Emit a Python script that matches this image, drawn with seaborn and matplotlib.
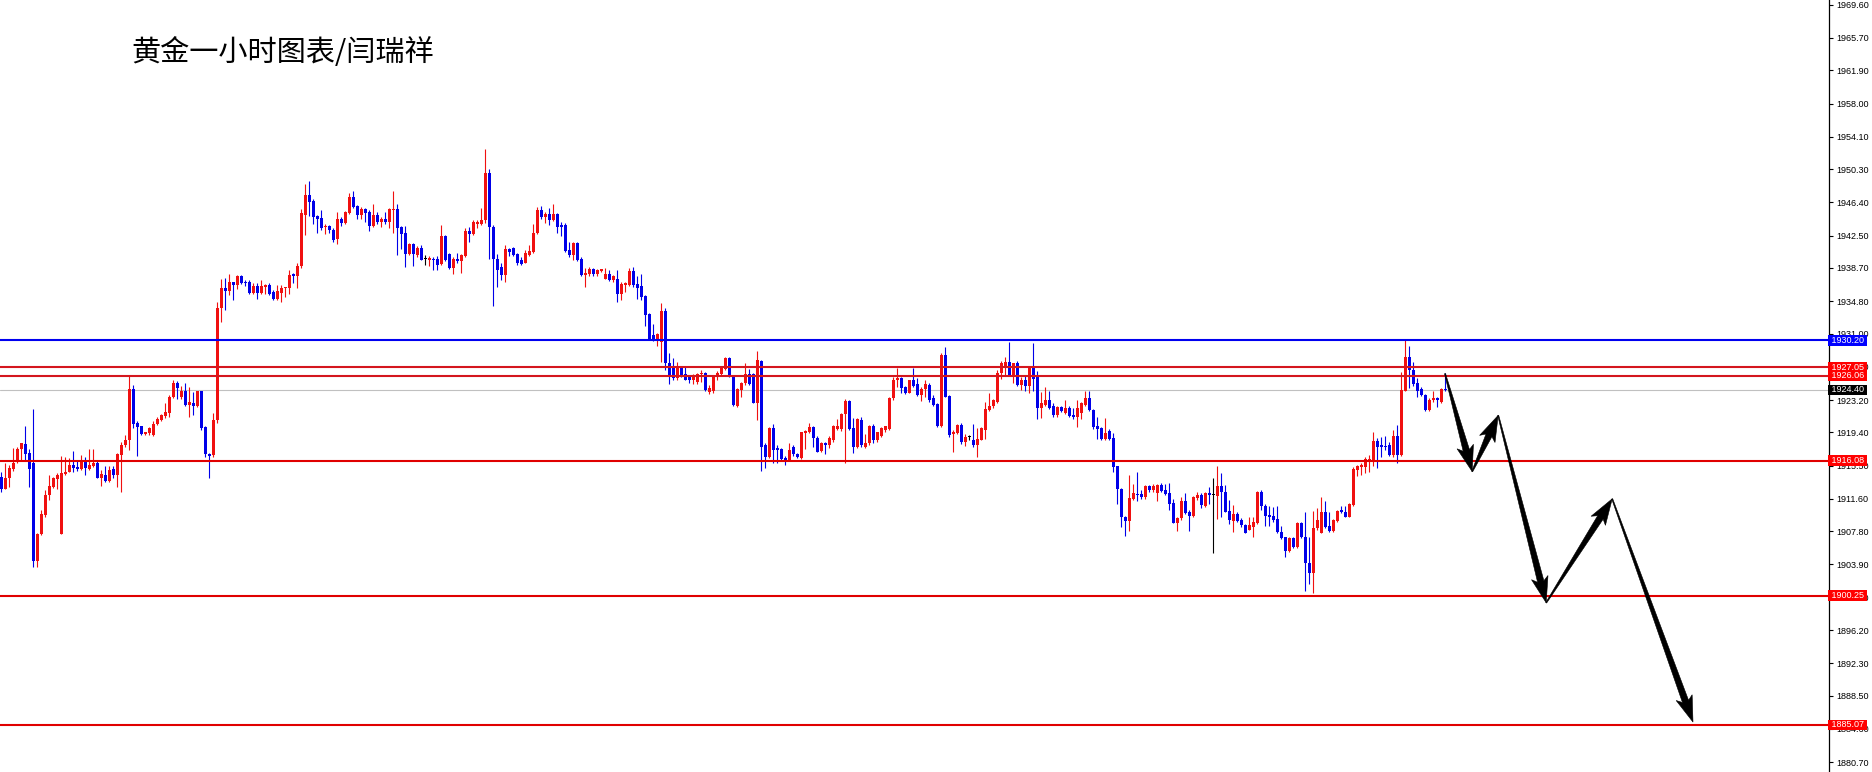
import numpy as np
import pandas as pd
import matplotlib
matplotlib.use("Agg")
import matplotlib.pyplot as plt
import matplotlib.transforms as mtransforms
from matplotlib.patches import Polygon
import seaborn as sns

# ---------------- data (hourly gold OHLC) ----------------
opens = [
1914.2,1912.8,1914.0,1915.1,1915.9,1917.4,1918.0,1917.0,1915.8,1904.3,
1907.5,1909.7,1912.0,1913.0,1913.9,1907.5,1914.5,1914.8,1915.6,1915.3,
1915.1,1916.0,1915.1,1915.4,1915.8,1914.1,1914.4,1913.7,1915.1,1914.4,
1916.8,1917.9,1918.5,1924.5,1920.5,1920.1,1919.2,1919.3,1919.1,1920.4,
1920.9,1921.3,1921.7,1923.6,1925.2,1923.6,1924.3,1922.6,1922.9,1922.5,
1924.2,1920.0,1916.9,1916.7,1920.8,1934.0,1936.4,1936.0,1937.0,1936.7,
1937.8,1937.1,1937.1,1935.8,1936.6,1935.8,1936.5,1936.7,1935.9,1935.1,
1935.8,1936.3,1936.3,1938.0,1937.7,1938.9,1944.9,1947.3,1946.5,1944.8,
1944.6,1943.5,1943.6,1943.2,1942.1,1944.5,1944.0,1945.1,1947.0,1946.0,
1944.9,1945.6,1945.3,1943.6,1944.9,1944.1,1944.5,1944.1,1945.5,1945.6,
1943.5,1942.8,1940.3,1941.5,1940.2,1941.1,1939.7,1939.6,1939.8,1939.8,
1939.2,1942.5,1940.3,1938.7,1939.8,1939.5,1940.1,1943.0,1942.7,1943.9,
1943.9,1944.3,1949.8,1943.55,1939.8,1938.8,1937.9,1940.9,1941.0,1940.3,
1939.6,1939.3,1940.2,1940.6,1942.8,1945.5,1944.7,1945.0,1944.3,1945.0,
1943.75,1943.75,1940.8,1940.2,1941.6,1939.8,1937.9,1938.0,1938.55,1938.0,
1938.4,1937.45,1937.95,1937.3,1937.4,1935.7,1936.7,1936.7,1938.4,1936.8,
1936.6,1935.4,1933.3,1930.8,1930.3,1930.05,1933.7,1927.6,1927.1,1925.75,
1926.9,1926.3,1925.95,1925.55,1925.3,1926.2,1926.4,1924.1,1924.3,1925.95,
1926.3,1926.8,1928.1,1925.95,1922.5,1924.4,1925.15,1926.3,1926.3,1922.9,
1927.8,1917.9,1916.5,1919.9,1917.55,1917.4,1916.4,1916.2,1917.65,1916.9,
1916.4,1919.3,1919.5,1920.0,1918.8,1917.25,1918.2,1917.9,1918.5,1919.8,
1919.8,1921.55,1923.1,1919.9,1917.7,1920.8,1917.7,1918.1,1920.1,1918.45,
1919.0,1919.7,1919.8,1923.4,1925.55,1925.75,1924.75,1924.05,1925.55,1925.1,
1923.8,1924.5,1924.95,1923.4,1922.7,1920.1,1928.45,1923.7,1919.2,1919.35,
1920.3,1918.3,1918.85,1918.45,1917.95,1918.5,1919.7,1922.05,1922.45,1923.0,
1926.35,1927.2,1927.7,1926.15,1927.6,1924.95,1925.55,1924.85,1926.9,1926.0,
1922.25,1922.6,1923.2,1922.45,1921.45,1922.35,1921.65,1922.25,1921.45,1921.2,
1921.65,1922.6,1923.4,1922.05,1920.1,1919.9,1918.6,1919.6,1918.7,1915.4,
1912.7,1909.5,1908.95,1911.55,1912.15,1912.15,1911.8,1913.15,1912.65,1912.25,
1913.25,1912.65,1912.25,1911.15,1908.8,1909.3,1911.4,1910.0,1909.6,1911.65,
1912.05,1910.75,1912.25,1912.05,1911.95,1913.1,1912.4,1910.2,1909.05,1909.8,
1909.1,1908.55,1908.0,1908.35,1908.8,1912.45,1910.75,1909.7,1909.6,1909.2,
1907.75,1907.1,1905.5,1906.95,1905.9,1908.8,1907.15,1904.1,1902.85,1908.15,
1907.65,1910.0,1908.4,1907.85,1909.05,1910.3,1910.1,1909.5,1910.9,1915.0,
1915.3,1915.3,1916.0,1915.95,1918.4,1917.9,1917.8,1917.9,1916.75,1918.95,
1916.75,1924.3,1928.2,1926.7,1925.15,1924.45,1923.8,1922.0,1923.2,1923.4,
1923.0,1924.55]
highs = [
1914.8,1915.8,1915.6,1917.6,1917.7,1918.2,1920.1,1917.4,1922.1,1907.6,
1910.3,1912.6,1914.4,1914.2,1914.6,1916.6,1916.5,1916.4,1917.2,1916.2,
1916.7,1916.5,1917.4,1917.5,1916.0,1915.0,1915.5,1915.4,1915.4,1917.0,
1918.3,1919.1,1926.0,1925.0,1920.7,1920.2,1919.5,1920.0,1920.7,1921.2,
1921.6,1922.9,1923.8,1925.6,1925.4,1924.8,1925.2,1924.7,1924.1,1924.3,
1924.3,1920.2,1917.0,1921.7,1934.75,1937.4,1937.5,1938.0,1937.1,1937.9,
1937.85,1937.3,1937.3,1936.9,1936.9,1937.3,1936.8,1936.9,1936.1,1936.7,
1936.7,1936.5,1938.5,1938.1,1939.3,1945.6,1948.6,1948.95,1946.8,1944.9,
1945.5,1943.9,1943.7,1943.4,1945.3,1944.65,1945.4,1947.5,1947.7,1946.1,
1945.8,1945.7,1945.5,1946.2,1945.3,1944.65,1945.3,1945.7,1947.7,1946.2,
1943.6,1943.6,1941.6,1941.6,1941.3,1941.4,1940.2,1940.1,1939.95,1940.1,
1943.8,1942.6,1940.4,1940.0,1940.4,1940.3,1943.4,1943.55,1944.3,1944.3,
1945.7,1952.7,1950.3,1943.7,1940.3,1939.25,1941.4,1941.0,1941.2,1940.5,
1939.95,1940.8,1941.4,1943.9,1945.9,1946.0,1945.3,1945.7,1946.2,1945.1,
1944.1,1944.0,1941.8,1941.8,1941.7,1939.95,1938.65,1938.8,1938.65,1938.55,
1938.6,1938.65,1938.5,1937.9,1938.5,1937.1,1937.1,1938.65,1938.8,1937.7,
1938.0,1935.55,1933.4,1932.1,1931.1,1934.55,1933.95,1928.7,1928.1,1927.7,
1927.2,1927.2,1926.1,1926.3,1926.4,1926.7,1926.5,1924.95,1926.1,1926.6,
1927.1,1928.3,1928.2,1926.0,1924.6,1925.35,1927.6,1926.8,1926.35,1929.0,
1927.9,1918.1,1920.0,1920.4,1917.9,1917.55,1916.6,1918.1,1917.9,1916.95,
1919.5,1919.7,1920.45,1920.1,1918.95,1918.3,1918.3,1919.0,1920.3,1920.95,
1921.65,1923.3,1923.2,1921.05,1921.05,1921.2,1919.2,1920.3,1920.4,1919.5,
1920.0,1920.2,1923.6,1925.9,1926.9,1925.95,1924.85,1925.6,1926.9,1925.75,
1924.75,1925.55,1925.25,1923.8,1922.9,1928.75,1929.45,1923.8,1919.7,1920.4,
1920.5,1919.2,1919.1,1920.4,1919.9,1920.0,1923.0,1924.0,1923.3,1926.75,
1927.8,1928.3,1930.05,1927.6,1927.8,1925.85,1926.15,1927.05,1929.95,1926.6,
1924.1,1924.75,1924.2,1922.9,1922.5,1922.45,1923.15,1922.45,1922.25,1923.2,
1923.0,1924.2,1924.3,1922.1,1921.2,1920.0,1921.05,1919.75,1919.35,1915.45,
1912.85,1909.6,1914.4,1913.35,1914.7,1912.65,1913.25,1913.25,1913.35,1913.35,
1913.5,1913.4,1913.5,1911.55,1909.5,1911.8,1912.25,1910.3,1911.95,1912.35,
1912.25,1912.35,1912.95,1914.1,1915.45,1914.6,1913.25,1911.45,1910.9,1910.1,
1909.3,1908.65,1909.45,1909.5,1912.55,1912.65,1911.05,1910.75,1910.7,1910.75,
1908.4,1907.15,1907.15,1907.1,1908.9,1908.9,1910.1,1907.15,1910.2,1910.5,
1911.8,1911.3,1910.1,1909.2,1910.3,1910.75,1910.75,1911.15,1915.3,1915.55,
1915.75,1916.5,1916.8,1919.4,1918.7,1918.9,1919.0,1918.3,1919.7,1920.3,
1926.5,1930.3,1929.5,1927.7,1925.75,1924.75,1923.9,1923.4,1924.2,1923.6,
1924.6,1926.4]
lows = [
1912.4,1912.7,1913.0,1914.9,1915.8,1916.2,1916.2,1913.0,1903.6,1903.6,
1907.3,1909.5,1911.5,1912.9,1912.8,1907.5,1914.4,1914.7,1914.8,1914.9,
1915.0,1914.4,1915.0,1915.3,1914.0,1913.1,1913.6,1913.6,1914.0,1913.0,
1912.4,1917.7,1917.3,1919.9,1916.6,1919.1,1919.1,1919.1,1919.0,1920.3,
1920.7,1921.1,1921.2,1923.4,1923.3,1923.3,1922.5,1921.2,1921.4,1922.4,
1919.7,1916.5,1914.0,1916.5,1920.5,1932.4,1933.8,1935.5,1934.9,1936.2,
1936.8,1936.6,1935.7,1935.7,1935.1,1935.7,1935.7,1935.5,1934.95,1934.9,
1934.75,1935.3,1935.7,1936.9,1936.3,1938.7,1942.6,1944.8,1943.9,1942.85,
1943.2,1942.7,1942.85,1941.7,1941.5,1943.6,1943.9,1945.0,1945.7,1944.5,
1944.5,1944.1,1943.0,1943.5,1943.9,1943.5,1943.9,1943.4,1942.85,1940.2,
1940.9,1938.8,1940.2,1938.9,1940.0,1939.6,1939.05,1938.9,1938.5,1938.5,
1939.05,1939.5,1938.6,1938.0,1939.3,1938.15,1940.0,1941.7,1942.6,1943.4,
1943.75,1944.0,1939.8,1934.25,1936.5,1937.3,1937.1,1940.1,1940.1,1939.1,
1939.05,1939.25,1940.1,1940.5,1942.7,1944.5,1944.0,1943.75,1944.2,1942.8,
1942.5,1940.6,1940.0,1939.6,1939.5,1937.7,1936.5,1937.7,1937.7,1937.7,
1938.2,1937.4,1937.2,1937.1,1934.75,1934.95,1935.9,1936.6,1936.5,1935.0,
1934.9,1931.9,1930.25,1930.15,1929.55,1927.7,1926.7,1925.1,1925.6,1925.6,
1925.95,1925.55,1925.15,1925.1,1925.1,1925.35,1924.2,1923.9,1924.0,1925.55,
1926.1,1926.7,1925.9,1922.5,1922.35,1923.6,1924.95,1924.95,1922.8,1920.85,
1914.9,1915.2,1916.35,1915.85,1915.85,1916.1,1915.6,1916.15,1916.6,1916.35,
1916.3,1917.4,1919.3,1917.7,1917.05,1917.15,1916.9,1917.6,1918.3,1919.7,
1919.6,1915.85,1919.7,1916.95,1917.6,1917.7,1917.6,1917.9,1918.2,1918.3,
1918.9,1919.5,1919.7,1923.2,1924.75,1924.0,1923.9,1924.0,1924.75,1923.7,
1923.1,1923.6,1923.0,1922.5,1920.0,1920.0,1923.5,1918.85,1917.05,1919.2,
1918.05,1917.8,1918.45,1917.65,1916.5,1918.45,1918.6,1921.95,1922.25,1922.9,
1925.65,1926.0,1926.0,1925.15,1924.85,1924.4,1924.3,1924.0,1924.2,1920.95,
1921.05,1922.45,1922.1,1921.2,1921.25,1921.85,1921.55,1921.25,1920.95,1920.0,
1920.95,1922.5,1921.95,1919.75,1918.6,1918.5,1918.5,1918.5,1914.7,1911.0,
1908.35,1907.25,1907.85,1911.45,1911.3,1911.55,1911.55,1912.45,1912.45,1911.4,
1912.45,1912.05,1910.3,1908.75,1907.85,1909.1,1909.8,1907.85,1909.45,1911.45,
1910.5,1910.6,1911.0,1905.2,1909.2,1909.5,1910.0,1908.7,1907.75,1908.9,
1908.35,1907.55,1907.95,1907.15,1908.7,1910.3,1908.4,1908.4,1908.9,1907.65,
1906.85,1904.8,1905.4,1905.8,1905.8,1906.95,1900.8,1901.6,1900.6,1907.9,
1907.55,1908.15,1907.75,1907.75,1908.9,1909.9,1909.45,1909.45,1910.75,1914.3,
1914.4,1914.65,1914.7,1915.4,1915.2,1916.55,1917.3,1916.65,1916.55,1915.77,
1916.6,1924.2,1924.6,1924.8,1923.6,1923.7,1921.95,1921.95,1923.0,1922.35,
1922.9,1924.2]
closes = [
1912.8,1914.0,1915.2,1915.8,1917.5,1918.1,1916.9,1915.1,1904.3,1907.5,
1909.8,1912.1,1913.1,1914.1,1914.4,1914.6,1914.8,1915.6,1915.2,1915.1,
1916.2,1915.2,1915.6,1915.8,1914.1,1914.5,1913.7,1915.0,1914.4,1916.9,
1917.9,1918.5,1924.5,1920.4,1920.0,1919.2,1919.4,1919.9,1920.4,1921.0,
1921.4,1921.8,1923.6,1925.2,1924.6,1924.3,1922.6,1923.0,1922.5,1924.2,
1919.9,1916.9,1916.6,1920.8,1934.0,1936.4,1936.0,1937.0,1936.7,1937.8,
1936.9,1936.9,1935.8,1936.6,1935.8,1936.6,1936.7,1935.7,1935.1,1936.0,
1936.4,1936.4,1937.9,1937.7,1938.9,1945.1,1947.3,1946.4,1944.7,1944.5,
1943.4,1943.6,1943.1,1942.0,1944.4,1944.0,1945.3,1947.0,1945.9,1944.9,
1945.6,1945.2,1943.6,1944.9,1944.1,1944.5,1944.1,1945.6,1945.6,1943.4,
1942.7,1940.3,1941.5,1940.3,1941.1,1939.6,1939.7,1939.9,1939.6,1939.1,
1942.5,1939.6,1938.7,1939.8,1939.5,1940.2,1943.0,1942.7,1944.1,1944.1,
1944.3,1949.8,1943.55,1939.8,1938.5,1937.9,1940.9,1940.6,1940.2,1939.25,
1939.2,1940.5,1940.7,1942.85,1945.5,1944.7,1945.0,1944.3,1945.0,1943.55,
1943.55,1940.7,1940.2,1941.6,1939.6,1937.9,1938.15,1938.55,1938.0,1938.5,
1938.55,1937.95,1937.3,1937.7,1935.7,1936.8,1936.9,1938.4,1936.7,1936.4,
1935.3,1933.2,1930.3,1930.3,1930.95,1933.7,1927.5,1925.95,1925.75,1926.9,
1926.1,1925.6,1925.55,1925.95,1926.3,1926.4,1924.4,1924.6,1926.0,1926.4,
1926.9,1928.1,1925.95,1922.6,1924.45,1925.2,1926.3,1925.1,1922.9,1927.9,
1917.7,1916.5,1919.9,1917.35,1917.3,1916.25,1916.15,1917.35,1916.9,1916.5,
1919.4,1919.6,1920.0,1918.7,1917.15,1918.2,1917.9,1918.7,1920.15,1920.1,
1921.55,1923.1,1919.8,1917.7,1920.95,1917.9,1918.2,1920.15,1918.5,1919.4,
1919.9,1920.1,1923.4,1925.6,1925.75,1924.6,1924.05,1925.5,1924.85,1923.8,
1924.5,1925.1,1923.2,1922.6,1920.1,1928.45,1923.6,1919.1,1919.5,1920.3,
1918.3,1918.9,1918.85,1917.95,1918.6,1919.9,1922.1,1922.5,1923.15,1926.35,
1927.5,1927.7,1926.15,1927.5,1924.95,1925.55,1924.85,1926.9,1925.65,1922.25,
1922.9,1923.2,1922.25,1921.45,1922.35,1921.95,1922.25,1921.35,1921.2,1922.25,
1922.8,1923.4,1922.05,1920.0,1919.75,1918.6,1919.35,1918.6,1915.3,1912.7,
1909.45,1908.95,1911.65,1912.25,1912.05,1911.8,1913.15,1912.65,1913.05,1913.25,
1912.55,1912.15,1911.0,1908.8,1909.3,1911.4,1909.9,1909.6,1911.85,1912.05,
1910.9,1912.25,1912.05,1912.05,1913.1,1912.35,1910.1,1909.1,1909.8,1909.05,
1908.55,1907.65,1908.55,1908.9,1912.45,1910.75,1909.6,1909.45,1909.1,1907.75,
1906.95,1905.5,1906.95,1905.9,1908.8,1907.15,1904.1,1902.85,1908.15,1909.1,
1910.0,1908.35,1907.85,1909.1,1910.2,1910.0,1909.5,1911.0,1915.05,1915.4,
1915.55,1916.25,1916.3,1918.4,1917.7,1917.7,1917.65,1916.75,1918.95,1916.75,
1924.4,1928.2,1926.7,1925.1,1924.3,1923.8,1922.0,1923.2,1923.4,1923.2,
1924.45,1924.4]

level_prices = [1930.20, 1926.06, 1927.05, 1916.08, 1900.25, 1885.07]
level_colors = ["#0000F0", "#D4161E", "#D4161E", "#E00000", "#E00000", "#E00000"]
box_colors = ["#0000FF", "#FF0000", "#FF0000", "#FF0000", "#FF0000", "#FF0000"]
current_price = 1924.40
tick_values = [1880.70, 1884.60, 1888.50, 1892.30, 1896.20, 1900.00, 1903.90,
               1907.80, 1911.60, 1915.50, 1919.40, 1923.20, 1927.10, 1931.00,
               1934.80, 1938.70, 1942.50, 1946.40, 1950.30, 1954.10, 1958.00,
               1961.90, 1965.70, 1969.60]
# projected path (bar index, price) for the hand-drawn arrows
arrow_x = [361.0, 367.8, 374.3, 386.3, 402.8, 423.0]
arrow_y = [1926.3, 1914.8, 1921.4, 1899.4, 1911.6, 1885.4]
title_text = "黄金一小时图表/闫瑞祥"

# ---------------- style ----------------
sns.set_theme(style="white")
plt.rcParams["font.family"] = ["Liberation Sans", "DejaVu Sans"]

W, H = 1872, 772
fig = plt.figure(figsize=(W / 100, H / 100), dpi=100)
fig.patch.set_facecolor("white")
ax = fig.add_axes([0, 0, 1829 / W, 1])
ax.set_facecolor("white")
ax.set_xlim(-0.25, 457)
ax.set_ylim(1879.54, 1970.15)

df = pd.DataFrame({"o": opens, "h": highs, "l": lows, "c": closes})
df["idx"] = np.arange(len(df))
UP, DOWN, FLAT = "#F01010", "#0000E8", "#000000"
df["color"] = np.where(df.c > df.o, UP, np.where(df.c < df.o, DOWN, FLAT))
df["bottom"] = np.minimum(df.o, df.c)
df["height"] = np.maximum(np.abs(df.c - df.o), 0.12)

# current-price line (behind candles)
ax.axhline(current_price, color="#C0C0C0", lw=0.8, zorder=1)

# wicks and bodies
ax.vlines(df.idx, df.l, df.h, colors=df.color, linewidth=0.8, zorder=2)
ax.bar(df.idx, df.height, bottom=df.bottom, width=0.75, color=df.color,
       linewidth=0, zorder=3)

# horizontal levels
for p, c in zip(level_prices, level_colors):
    ax.axhline(p, color=c, lw=1.5, zorder=4)

# arrows
def draw_arrow(x0, y0, x1, y1, w0=1.0, w1=6.5, hw=8.5, hl=22.0):
    t = ax.transData
    s = t.transform((x0, y0))
    e = t.transform((x1, y1))
    d = e - s
    L = np.hypot(*d)
    u = d / L
    n = np.array([-u[1], u[0]])
    b = s + u * (L - hl)
    bb = s + u * (L - hl - 4)
    pts = [s + n * w0 / 2, b + n * w1 / 2, bb + n * hw, e,
           bb - n * hw, b - n * w1 / 2, s - n * w0 / 2]
    ax.add_patch(Polygon(t.inverted().transform(pts), closed=True,
                         fc="black", ec="black", lw=0.4, zorder=6))

for k in range(len(arrow_x) - 1):
    draw_arrow(arrow_x[k], arrow_y[k], arrow_x[k + 1], arrow_y[k + 1])

# axis styling
for side in ["left", "top", "bottom"]:
    ax.spines[side].set_visible(False)
ax.spines["right"].set_color("black")
ax.spines["right"].set_linewidth(0.9)
ax.set_xticks([])
ax.yaxis.tick_right()
ax.set_yticks(tick_values)
ax.set_yticklabels([f"{v:.2f}" for v in tick_values])
ax.tick_params(axis="y", direction="out", length=3, width=0.8, pad=2,
               labelsize=6.5, colors="black")
ax.grid(False)

# price boxes on the axis (they cover the nearby tick labels, as in MT4)
blend = mtransforms.blended_transform_factory(ax.transAxes, ax.transData)
for p, c in zip(level_prices, box_colors):
    ax.text(1.0, p, f" {p:.2f} ", transform=blend, ha="left", va="center",
            fontsize=6.5, color="white", clip_on=False, zorder=10,
            bbox=dict(boxstyle="square,pad=0.08", fc=c, ec="none"))
ax.text(1.0, current_price, f" {current_price:.2f} ", transform=blend,
        ha="left", va="center", fontsize=6.5, color="white", clip_on=False,
        zorder=10, bbox=dict(boxstyle="square,pad=0.08", fc="black", ec="none"))

fig.text(131 / W, 1 - 53 / H, title_text, fontsize=21, ha="left", va="center",
         color="black", family=["Noto Sans CJK SC", "DejaVu Sans"])

fig.savefig("out.png", dpi=100, facecolor="white")
